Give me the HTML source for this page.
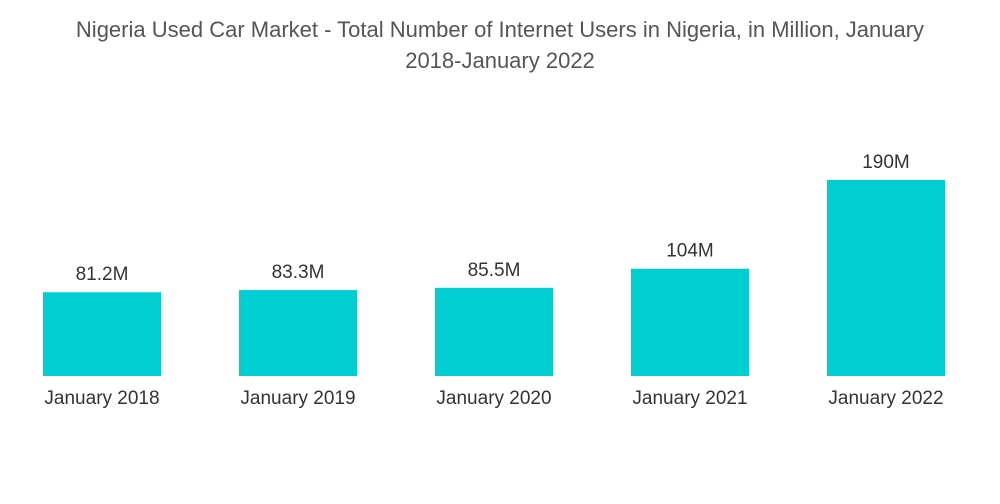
<!DOCTYPE html>
<html><head><meta charset="utf-8"><style>
body{margin:0;background:#fff;width:1000px;height:504px;overflow:hidden;font-family:"Liberation Sans",sans-serif}
#title{position:absolute;left:0;top:14px;width:1000px;text-align:center;font-size:22px;line-height:31px;color:#555}
</style></head><body>
<div id="title">Nigeria Used Car Market - Total Number of Internet Users in Nigeria, in Million, January<br>2018-January 2022</div>
<svg id="chart" width="1000" height="504" style="position:absolute;left:0;top:0"></svg>
<script>
const categories=["January 2018","January 2019","January 2020","January 2021","January 2022"];
const values=[81.2,83.3,85.5,104,190];
const valueLabels=["81.2M","83.3M","85.5M","104M","190M"];
const svg=document.getElementById('chart');
const NS='http://www.w3.org/2000/svg';
const base=376, pxPer=196/190, x0=43, step=196, bw=118;
function y(v){return base-v*pxPer;}
function x(i){return x0+i*step;}
values.forEach((v,i)=>{
  const r=document.createElementNS(NS,'rect');
  r.setAttribute('x',x(i));r.setAttribute('y',y(v));
  r.setAttribute('width',bw);r.setAttribute('height',base-y(v));
  r.setAttribute('fill','#00CED1');
  
  
  svg.appendChild(r);
  const t=document.createElementNS(NS,'text');
  t.setAttribute('x',x(i)+bw/2);t.setAttribute('y',y(v)-12);
  t.setAttribute('text-anchor','middle');t.setAttribute('font-size','19');t.setAttribute('fill','#333');
  t.textContent=valueLabels[i];
  
  
  svg.appendChild(t);
  const c=document.createElementNS(NS,'text');
  c.setAttribute('x',x(i)+bw/2);c.setAttribute('y',404);
  c.setAttribute('text-anchor','middle');c.setAttribute('font-size','19');c.setAttribute('fill','#333');
  c.textContent=categories[i];
  
  
  svg.appendChild(c);
});
</script>
</body></html>
